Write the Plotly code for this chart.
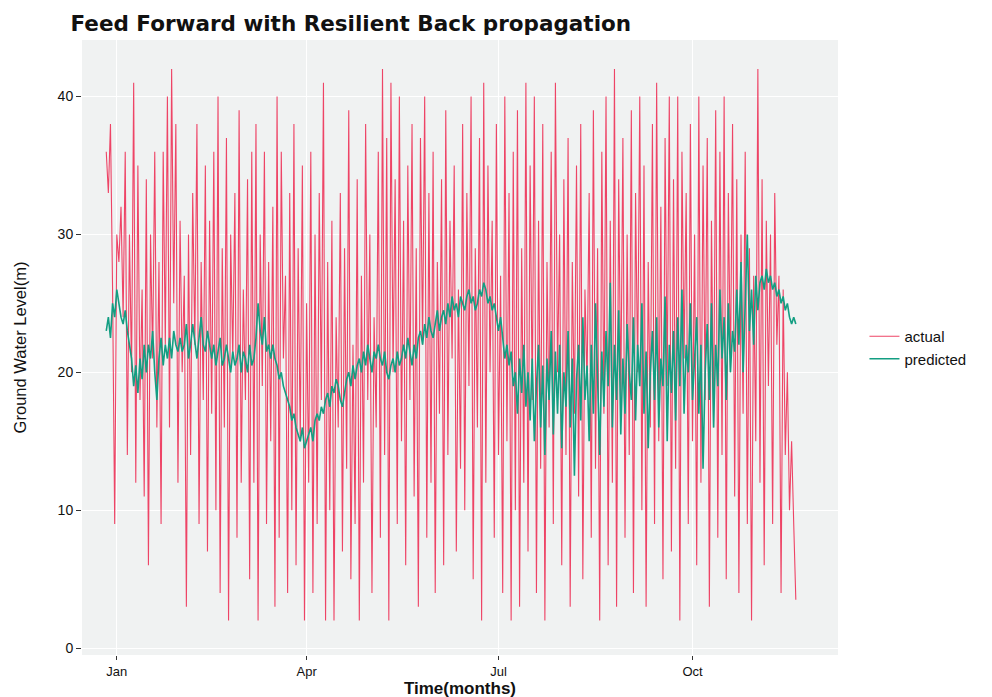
import pandas as pd
import plotly.graph_objects as go

start_date = "2012-12-27"

actual = [
    36, 33, 38, 26, 9, 30, 28, 32, 24, 36,
    14, 30, 20, 41, 12, 35, 18, 26, 11, 34,
    6, 30, 21, 36, 16, 28, 9, 36, 22, 40,
    16, 42, 25, 38, 12, 31, 20, 27, 3, 30,
    14, 33, 22, 38, 9, 28, 18, 35, 7, 31,
    17, 36, 10, 40, 4, 29, 16, 37, 2, 30,
    21, 33, 8, 39, 12, 26, 18, 34, 5, 36,
    12, 38, 2, 30, 19, 36, 9, 28, 15, 32,
    3, 40, 8, 36, 21, 27, 4, 33, 10, 38,
    6, 29, 15, 35, 2, 25, 12, 36, 4, 30,
    9, 33, 18, 41, 2, 28, 10, 31, 2, 24,
    16, 33, 7, 29, 13, 39, 5, 22, 9, 34,
    2, 27, 12, 38, 18, 30, 4, 24, 16, 36,
    8, 42, 14, 37, 2, 41, 20, 34, 9, 40,
    15, 31, 6, 35, 18, 38, 11, 29, 3, 37,
    22, 40, 8, 33, 12, 36, 4, 28, 17, 34,
    6, 39, 14, 31, 21, 35, 7, 26, 13, 38,
    10, 33, 19, 40, 5, 29, 16, 37, 2, 41,
    12, 35, 20, 31, 8, 38, 14, 27, 4, 40,
    15, 33, 2, 36, 10, 39, 3, 29, 12, 41,
    7, 35, 18, 40, 4, 31, 13, 38, 2, 28,
    16, 36, 9, 41, 20, 30, 6, 34, 14, 37,
    3, 28, 17, 35, 11, 38, 5, 26, 19, 33,
    8, 39, 13, 29, 2, 36, 17, 40, 6, 31,
    12, 42, 3, 34, 18, 37, 8, 30, 14, 39,
    4, 33, 20, 40, 10, 35, 3, 28, 16, 38,
    9, 41, 15, 32, 5, 37, 19, 40, 7, 34,
    13, 40, 2, 36, 21, 33, 9, 38, 15, 30,
    6, 40, 12, 35, 18, 37, 3, 31, 16, 39,
    8, 36, 14, 40, 5, 33, 20, 38, 11, 34,
    4, 30, 17, 36, 9, 29, 2, 27, 15, 42,
    12, 34, 6, 31, 19, 30, 9, 33, 22, 27,
    4, 26, 14, 20, 10, 15, 9, 3.5,
]

predicted = [
    23, 24, 22.5, 25, 24, 26, 25, 24, 23.5, 24.5,
    23, 22, 21, 19, 20.5, 18.5, 21, 19.5, 22, 20,
    22, 21, 23, 20, 18, 21, 22.5, 20.5, 22, 21,
    22.5, 21, 23, 22, 21.5, 22.5, 21.5, 22, 23.5, 21,
    22, 23.5, 22, 21, 22.5, 24, 22, 21.5, 23, 22,
    21, 22, 20.5, 21.5, 22.5, 20.5, 21, 22, 21, 20,
    21.5, 20.5, 21, 22, 20, 21.5, 21, 20, 22, 20.5,
    21, 22.5, 25, 23, 22, 24, 21.5, 22, 21, 22,
    21, 20.5, 19.5, 20, 19, 18.5, 18, 17.5, 16.5, 17,
    16, 15.5, 15, 16, 14.5, 15, 15.5, 16, 15, 16.5,
    17, 16.5, 17.5, 17, 18, 18.5, 17.5, 19, 18.5, 19.5,
    19, 18, 17.5, 18.5, 19.5, 20, 19, 20.5, 19.5, 20.5,
    21, 20, 21.5, 20.5, 22, 21, 20, 21.5, 21, 22,
    21, 20.5, 21.5, 20, 19.5, 20.5, 21, 20, 21.5, 20.5,
    21, 22, 21, 22.5, 21.5, 20.5, 22, 21, 22.5, 23,
    22, 23.5, 22.5, 24, 23, 22.5, 23.5, 24.5, 23, 24,
    24.5, 23.5, 25, 24, 25.5, 24.5, 25, 24, 25.5, 25,
    24.5, 25.5, 26, 25, 25.5, 24.5, 25, 26, 25.5, 26.5,
    26, 25, 25.5, 24.5, 25, 24, 23, 24, 22.5, 21,
    22, 20.5, 21.5, 19, 20, 17, 21, 18.5, 22, 17.5,
    20, 16.5, 21, 15, 19, 22, 16, 20.5, 14, 21,
    18, 23, 15.5, 21.5, 17, 22, 14.5, 20, 17.5, 23,
    16, 21, 12.5, 19.5, 22, 16.5, 24, 18, 20.5, 15,
    22, 17, 25, 19, 14, 21.5, 17.5, 23, 19, 26.5,
    16, 22, 18, 24.5, 15.5, 21, 17, 23.5, 20, 18,
    24, 16.5, 22, 19, 25, 17, 21.5, 14.5, 20, 23,
    18, 24, 16, 21, 19, 25.5, 15, 22, 18.5, 23,
    16.5, 24, 19, 26, 17, 22, 20, 25, 18, 21,
    24, 17, 22, 13, 20, 23.5, 18, 25, 16, 22,
    19, 26, 21, 24, 18, 25, 20, 23, 21.5, 26,
    22, 28, 20, 25, 30, 23, 26, 22, 27, 24.5,
    26.5, 27, 26, 27.5, 26.5, 27, 26, 26.5, 25.5, 26,
    25, 25.5, 24.5, 25, 24, 23.5, 24, 23.5,
]

tick_dates = ["2013-01-01", "2013-04-01", "2013-07-01", "2013-10-01"]
tick_labels = ["Jan", "Apr", "Jul", "Oct"]
y_ticks = [0, 10, 20, 30, 40]

dates = pd.date_range(start_date, periods=len(actual), freq="D")

fig = go.Figure()
fig.add_trace(go.Scatter(x=dates, y=actual, mode="lines", name="actual",
                         line=dict(color="#EE4466", width=1.1)))
fig.add_trace(go.Scatter(x=dates[:len(predicted)], y=predicted, mode="lines", name="predicted",
                         line=dict(color="#139E82", width=1.6)))

fig.update_layout(
    width=992, height=697,
    margin=dict(l=74, r=162, t=32, b=50),
    paper_bgcolor="white",
    plot_bgcolor="#F0F2F2",
    font=dict(family="Liberation Sans, Arial", color="#111111"),
    title=dict(text="<b>Feed Forward with Resilient Back propagation</b>",
               x=0.063, xanchor="left", y=0.978, yanchor="middle",
               font=dict(family="DejaVu Sans", size=21.5, color="#111111")),
    legend=dict(x=1.035, y=0.5, xanchor="left", yanchor="middle",
                bgcolor="rgba(0,0,0,0)", font=dict(size=15),
                tracegroupgap=4),
    showlegend=True,
)
fig.update_xaxes(
    range=["2012-12-15 12:00", "2013-12-09"],
    tickvals=pd.to_datetime(tick_dates), ticktext=tick_labels,
    ticks="outside", ticklen=4, tickcolor="#333333",
    tickfont=dict(size=13),
    showgrid=True, gridcolor="white", gridwidth=1.2, zeroline=False,
    title=dict(text="<b>Time(months)</b>", font=dict(size=17), standoff=2),
)
fig.update_yaxes(
    range=[-0.5, 44.1],
    tickvals=y_ticks,
    ticks="outside", ticklen=5, tickcolor="#333333",
    tickfont=dict(size=14),
    showgrid=True, gridcolor="white", gridwidth=1.2, zeroline=False,
    title=dict(text="Ground Water Level(m)",
               font=dict(family="Liberation Sans Narrow, Liberation Sans", size=16.5),
               standoff=26),
)

fig.write_html("out.html")
